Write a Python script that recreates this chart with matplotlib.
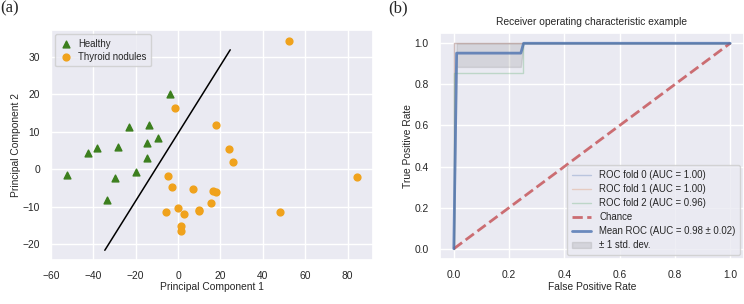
import matplotlib
matplotlib.use("Agg")
import matplotlib.pyplot as plt
import seaborn as sns

# (a) PCA scatter
healthy_pc1 = [-52.5, -42.4, -38.5, -28.4, -29.6, -33.8, -23.1, -19.8, -14.8, -14.6, -13.9, -9.4, -3.7]
healthy_pc2 = [-1.6, 4.4, 5.6, 5.9, -2.5, -8.2, 11.3, -0.9, 3.0, 6.9, 11.8, 8.3, 20.0]
nodule_pc1 = [52.5, -1.6, 18.1, 23.8, 25.7, 84.6, -4.7, -3.1, 7.2, 16.5, 17.8, 15.3,
              -0.2, -5.6, 3.0, 10.0, 9.8, 1.6, 1.4, 48.3]
nodule_pc2 = [34.3, 16.4, 11.7, 5.4, 1.9, -2.0, -1.9, -4.8, -5.3, -5.9, -6.1, -9.0,
              -10.4, -11.4, -12.1, -10.8, -11.3, -15.3, -16.6, -11.5]
boundary_pc1 = [-34.6, 24.6]
boundary_pc2 = [-21.7, 31.9]

# (b) ROC folds
fold_fpr = [[0.0, 0.0, 1.0], [0.0, 0.0, 1.0], [0.0, 0.0, 0.25, 0.25, 1.0]]
fold_tpr = [[0.0, 1.0, 1.0], [0.0, 1.0, 1.0], [0.0, 0.857, 0.857, 1.0, 1.0]]
fold_auc = [1.00, 1.00, 0.96]
mean_fpr = [0.0, 0.0101, 0.2424, 0.2525, 1.0]
mean_tpr = [0.0, 0.952, 0.952, 1.0, 1.0]
tpr_lower = [0.0, 0.885, 0.885, 1.0, 1.0]
tpr_upper = [0.0, 1.0, 1.0, 1.0, 1.0]
mean_auc, std_auc = 0.98, 0.02

sns.set_theme(style="darkgrid", color_codes=True)
plt.rcParams["font.family"] = ["Liberation Sans", "DejaVu Sans"]
fs = 7.4
leg_fs = 6.9
plt.rcParams["font.size"] = fs

fig = plt.figure(figsize=(7.44, 3.04), dpi=100)
ax1 = fig.add_axes([51 / 744, 44 / 304, 322 / 744, 230 / 304])
ax2 = fig.add_axes([440 / 744, 45 / 304, 304 / 744, 226 / 304])

tick_kw = dict(labelsize=fs, pad=2)

ax1.scatter(healthy_pc1, healthy_pc2, marker="^", color="#3c7f1e", s=24, label="Healthy", zorder=3)
ax1.scatter(nodule_pc1, nodule_pc2, marker="o", color="#f0a21c", s=24, label="Thyroid nodules", zorder=3)
ax1.plot(boundary_pc1, boundary_pc2, color="black", lw=1.1)
ax1.set_xlim(-60, 92)
ax1.set_ylim(-24.3, 37.2)
ax1.set_xticks([-60, -40, -20, 0, 20, 40, 60, 80])
ax1.set_yticks([-20, -10, 0, 10, 20, 30])
ax1.set_xlabel("Principal Component 1", fontsize=fs, labelpad=1)
ax1.set_ylabel("Principal Component 2", fontsize=fs, labelpad=1)
ax1.tick_params(**tick_kw)
ax1.legend(loc="upper left", fontsize=leg_fs, handlelength=1.4, handletextpad=0.5,
           borderpad=0.5, labelspacing=0.32, borderaxespad=0.4)

for i in range(3):
    ax2.plot(fold_fpr[i], fold_tpr[i], lw=1, alpha=0.3,
             label=f"ROC fold {i} (AUC = {fold_auc[i]:.2f})")
ax2.plot([0, 1], [0, 1], linestyle="--", lw=2, color="r", alpha=0.8, label="Chance")
ax2.plot(mean_fpr, mean_tpr, color="b", lw=2, alpha=0.8,
         label=f"Mean ROC (AUC = {mean_auc:.2f} \u00b1 {std_auc:.2f})")
ax2.fill_between(mean_fpr, tpr_lower, tpr_upper, color="grey", alpha=0.2,
                 label="\u00b1 1 std. dev.")
ax2.set_xlim(-0.05, 1.05)
ax2.set_ylim(-0.05, 1.05)
ax2.set_xlabel("False Positive Rate", fontsize=fs, labelpad=1)
ax2.set_ylabel("True Positive Rate", fontsize=fs, labelpad=1)
ax2.set_title("Receiver operating characteristic example", fontsize=fs, pad=6)
ax2.tick_params(**tick_kw)
ax2.legend(loc="lower right", fontsize=leg_fs, handletextpad=0.8, borderpad=0.5,
           labelspacing=0.42, borderaxespad=0.4)

fig.text(0.0, 1.0, "(a)", fontsize=12, family="Liberation Serif", va="top", ha="left")
fig.text(388 / 744, 1.0, "(b)", fontsize=12, family="Liberation Serif", va="top", ha="left")

fig.savefig("out.png", dpi=100)
